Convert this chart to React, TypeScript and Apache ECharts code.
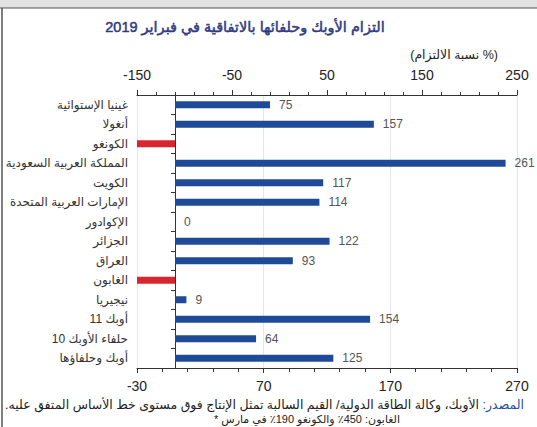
import React, { useEffect, useRef } from 'react';
import * as echarts from 'echarts';

const categories = [
  'غينيا الإستوائية',
  'أنغولا',
  'الكونغو',
  'المملكة العربية السعودية',
  'الكويت',
  'الإمارات العربية المتحدة',
  'الإكوادور',
  'الجزائر',
  'العراق',
  'الغابون',
  'نيجيريا',
  'أوبك 11',
  'حلفاء الأوبك 10',
  'أوبك وحلفاؤها',
];
// negative values are clipped at the bottom axis minimum (-30) in the picture
const values = [75, 157, -30, 261, 117, 114, 0, 122, 93, -30, 9, 154, 64, 125];

const topAxisMin = -150;
const topAxisMax = 250;
const bottomAxisMin = -30;
const bottomAxisMax = 270;
const axisInterval = 100;

const titleText = 'التزام الأوبك وحلفائها بالاتفاقية في فبراير 2019';
const unitText = '(نسبة الالتزام %)';
const sourceLabel = 'المصدر:\u200F';
const sourceText = 'الأوبك، وكالة الطاقة الدولية/ القيم السالبة تمثل الإنتاج فوق مستوى خط الأساس المتفق عليه.\u200F';
const noteText = '* الغابون: 450٪ والكونغو 190٪ في مارس';

const BLUE = '#1e4a97';
const RED = '#d9262e';
const FONT = "'Liberation Sans', 'DejaVu Sans', sans-serif";

export default function App() {
  const ref = useRef<HTMLDivElement>(null);
  useEffect(() => {
    document.body.style.margin = '0';
    const chart = echarts.init(ref.current!, null, { renderer: 'svg' });
    chart.setOption({
      animation: false,
      backgroundColor: '#ffffff',
      textStyle: { fontFamily: FONT },
      grid: { left: 137, right: 20, top: 95, bottom: 59, containLabel: false },
      xAxis: [
        {
          type: 'value',
          position: 'top',
          min: topAxisMin,
          max: topAxisMax,
          interval: axisInterval,
          axisLine: { show: true, onZero: false, lineStyle: { color: '#333' } },
          axisTick: { show: true, length: 5, lineStyle: { color: '#333' } },
          minorTick: { show: true, splitNumber: 5, length: 3, lineStyle: { color: '#333' } },
          axisLabel: { margin: 13, fontSize: 14, color: '#222', fontFamily: FONT },
          splitLine: { show: false },
        },
        {
          type: 'value',
          position: 'bottom',
          min: bottomAxisMin,
          max: bottomAxisMax,
          interval: axisInterval,
          axisLine: { show: true, onZero: false, lineStyle: { color: '#333' } },
          axisTick: { show: true, length: 5, lineStyle: { color: '#333' } },
          minorTick: { show: true, splitNumber: 5, length: 4, lineStyle: { color: '#333' } },
          axisLabel: { margin: 11, fontSize: 14, color: '#222', fontFamily: FONT },
          splitLine: { show: true, lineStyle: { color: '#e6e6e6' } },
        },
      ],
      yAxis: [
        {
          type: 'category',
          data: categories,
          inverse: true,
          position: 'left',
          axisLine: { show: false, onZero: false },
          axisTick: { show: false },
          axisLabel: { margin: 9, fontSize: 12, color: '#333', fontFamily: FONT },
          splitLine: { show: false },
        },
        {
          type: 'category',
          data: categories,
          inverse: true,
          position: 'left',
          axisLine: { show: true, onZero: true, onZeroAxisIndex: 1, lineStyle: { color: '#333' } },
          axisTick: { show: true, length: 4, lineStyle: { color: '#333' } },
          axisLabel: { show: false },
          splitLine: { show: false },
        },
      ],
      series: [
        {
          type: 'bar',
          xAxisIndex: 1,
          yAxisIndex: 0,
          barWidth: 7,
          data: values.map((v) => ({
            value: v,
            itemStyle: { color: v < 0 ? RED : BLUE },
            label: { show: v >= 0 },
          })),
          label: {
            show: true,
            position: 'right',
            distance: 9,
            fontSize: 12,
            color: '#555',
            fontFamily: FONT,
          },
        },
      ],
      graphic: [
        { type: 'rect', shape: { x: 0, y: 0, width: 537, height: 8 }, style: { fill: '#e2e2e2' }, silent: true },
        { type: 'line', shape: { x1: 0, y1: 8, x2: 537, y2: 8 }, style: { stroke: '#555', lineWidth: 1 }, silent: true },
        { type: 'line', shape: { x1: 2, y1: 8, x2: 2, y2: 427 }, style: { stroke: '#555', lineWidth: 1.5 }, silent: true },
        {
          type: 'text',
          x: 245,
          y: 27,
          style: {
            text: titleText,
            fill: '#2f3a82',
            font: `14.5px ${FONT}`,
            textAlign: 'center',
            textVerticalAlign: 'middle',
            stroke: '#2f3a82',
            lineWidth: 0.5,
          },
        },
        {
          type: 'text',
          x: 498,
          y: 55,
          style: {
            text: unitText,
            fill: '#222',
            font: `12.5px ${FONT}`,
            textAlign: 'right',
            textVerticalAlign: 'middle',
          },
        },
        {
          type: 'text',
          x: 524,
          y: 405,
          style: {
            text: `{a|${sourceText}} {b|${sourceLabel}}`,
            textAlign: 'right',
            textVerticalAlign: 'middle',
            rich: {
              a: { fill: '#222', font: `12.5px ${FONT}` },
              b: { fill: '#2a4fa0', font: `12.5px ${FONT}` },
            },
            font: `12.5px ${FONT}`,
          },
        },
        {
          type: 'text',
          x: 400,
          y: 419,
          style: {
            text: noteText,
            fill: '#222',
            font: `11px ${FONT}`,
            textAlign: 'right',
            textVerticalAlign: 'middle',
          },
        },
      ],
    });
    return () => chart.dispose();
  }, []);
  return <div ref={ref} style={{ width: 537, height: 427 }} />;
}
